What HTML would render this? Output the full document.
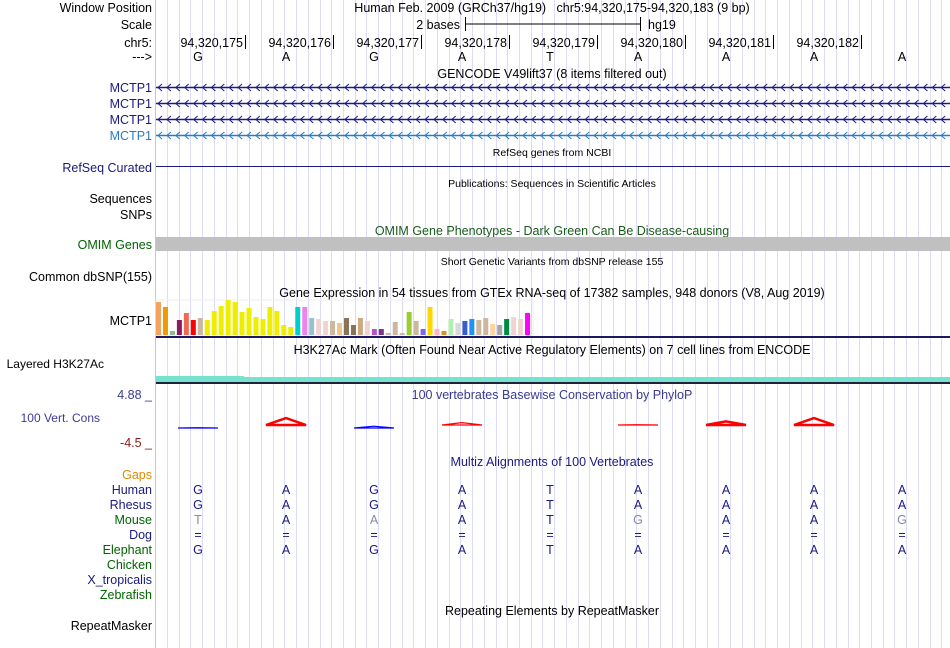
<!DOCTYPE html>
<html><head><meta charset="utf-8"><style>
html,body{margin:0;padding:0;background:#fff}
svg{display:block;font-family:"Liberation Sans",sans-serif}
</style></head><body>
<svg id="s" width="950" height="648" viewBox="0 0 950 648">
<g id="grid"></g>
<line x1="155.5" y1="0" x2="155.5" y2="648" stroke="#ffb0b0"/>
<g font-size="12.5" text-anchor="end" fill="#000">
<text x="152" y="12">Window Position</text>
<text x="152" y="29">Scale</text>
<text x="152" y="47">chr5:</text>
<text x="152" y="61">---&gt;</text>
<text x="152" y="92" fill="#1a1a80">MCTP1</text>
<text x="152" y="108" fill="#1a1a80">MCTP1</text>
<text x="152" y="124" fill="#1a1a80">MCTP1</text>
<text x="152" y="140" fill="#2b7bc0">MCTP1</text>
<text x="152" y="172" fill="#1a1a80">RefSeq Curated</text>
<text x="152" y="203">Sequences</text>
<text x="152" y="219">SNPs</text>
<text x="152" y="249" fill="#006400">OMIM Genes</text>
<text x="152" y="281">Common dbSNP(155)</text>
<text x="152" y="325">MCTP1</text>
<text x="104" y="368" font-size="12">Layered H3K27Ac</text>
<text x="152" y="399" fill="#3b3b8f">4.88 _</text>
<text x="100" y="422" fill="#3b3b8f" font-size="12">100 Vert. Cons</text>
<text x="152" y="447" fill="#8b1a1a">-4.5 _</text>
<text x="152" y="479" fill="#e08a00">Gaps</text>
<text x="152" y="494" fill="#1a1a80">Human</text>
<text x="152" y="509" fill="#1a1a80">Rhesus</text>
<text x="152" y="524" fill="#006400">Mouse</text>
<text x="152" y="539" fill="#1a1a80">Dog</text>
<text x="152" y="554" fill="#006400">Elephant</text>
<text x="152" y="569" fill="#006400">Chicken</text>
<text x="152" y="584" fill="#1a1a80">X_tropicalis</text>
<text x="152" y="599" fill="#006400">Zebrafish</text>
<text x="152" y="630">RepeatMasker</text>
</g>
<g font-size="12.5" fill="#000">
<text x="552" y="12" text-anchor="middle">Human Feb. 2009 (GRCh37/hg19)&#160;&#160;&#160;chr5:94,320,175-94,320,183 (9 bp)</text>
<text x="460" y="29" text-anchor="end">2 bases</text>
<text x="648" y="29">hg19</text>
<text x="552" y="78" text-anchor="middle">GENCODE V49lift37 (8 items filtered out)</text>
<text x="552" y="156" text-anchor="middle" font-size="10.5">RefSeq genes from NCBI</text>
<text x="552" y="187" text-anchor="middle" font-size="10.5">Publications: Sequences in Scientific Articles</text>
<text x="552" y="235" text-anchor="middle" fill="#1a5c1a">OMIM Gene Phenotypes - Dark Green Can Be Disease-causing</text>
<text x="552" y="265" text-anchor="middle" font-size="10.5">Short Genetic Variants from dbSNP release 155</text>
<text x="552" y="297" text-anchor="middle">Gene Expression in 54 tissues from GTEx RNA-seq of 17382 samples, 948 donors (V8, Aug 2019)</text>
<text x="552" y="354" text-anchor="middle">H3K27Ac Mark (Often Found Near Active Regulatory Elements) on 7 cell lines from ENCODE</text>
<text x="552" y="399" text-anchor="middle" fill="#3b3b8f">100 vertebrates Basewise Conservation by PhyloP</text>
<text x="552" y="466" text-anchor="middle" fill="#1a1a80">Multiz Alignments of 100 Vertebrates</text>
<text x="552" y="615" text-anchor="middle">Repeating Elements by RepeatMasker</text>
</g>
<g stroke="#000">
<line x1="465" y1="24" x2="640" y2="24"/><line x1="465.5" y1="17" x2="465.5" y2="31"/><line x1="640.5" y1="17" x2="640.5" y2="31"/>
</g>
<g id="ruler" font-size="12.5"></g>
<g id="genes"></g>
<line x1="156" y1="166.5" x2="950" y2="166.5" stroke="#1a1a80"/>
<rect x="156" y="237" width="794" height="14" fill="#c0c0c0"/>
<g id="gtex"></g>
<rect x="156" y="336" width="794" height="2" fill="#1a1a60"/>
<rect x="156" y="376" width="88" height="6" fill="#76e4cc"/>
<rect x="244" y="377" width="706" height="5" fill="#76e4cc"/>
<rect x="156" y="382" width="794" height="2" fill="#202040"/>
<g id="cons"></g>
<g id="multiz" font-size="12.5" text-anchor="middle"></g>
</svg>
<script>
const NS="http://www.w3.org/2000/svg";
function mk(t,a,p){const e=document.createElementNS(NS,t);for(const k in a)e.setAttribute(k,a[k]);p.appendChild(e);return e;}
const bases=["G","A","G","A","T","A","A","A","A"];
const tickLabels=["94,320,175","94,320,176","94,320,177","94,320,178","94,320,179","94,320,180","94,320,181","94,320,182"];
const gtexValues=[33,28,4,15,22,15,17,15,24,29,35,33,23,27,18,16,28,24,10,8,28,28,17,16,14,14,12,17,10,17,14,6,6,2,13,2,23,14,6,28,6,4,16,12,14,16,15,17,11,10,16,18,16,22];
const gtexColors=["#f4a460","#ee9a00","#8fbc8f","#8b1c62","#ee6a50","#ff0000","#cdb79e","#eeee00","#eeee00","#eeee00","#eeee00","#eeee00","#eeee00","#eeee00","#eeee00","#eeee00","#eeee00","#eeee00","#eeee00","#eeee00","#00cdcd","#ee82ee","#9ac0cd","#eed5d2","#eed5d2","#cdb79e","#eec591","#8b7355","#8b7355","#cdaa7d","#eed5d2","#b452cd","#7a378b","#cdb79e","#cdb79e","#cdb79e","#9acd32","#cdb79e","#7b68ee","#ffd700","#ffb6c1","#cd9b1d","#b4eeb4","#d9d9d9","#3a5fcd","#1e90ff","#cdb79e","#cdb79e","#ffd39b","#a6a6a6","#008b45","#eed5d2","#eed5d2","#ff00ff"];
const humanRow=["G","A","G","A","T","A","A","A","A"];
const rhesusRow=["G","A","G","A","T","A","A","A","A"];
const mouseRow=["T","A","A","A","T","G","A","A","G"];
const dogRow=["=","=","=","=","=","=","=","=","="];
const elephantRow=["G","A","G","A","T","A","A","A","A"];
const consValues=[-0.1,2.3,-0.6,0.8,0,0.1,1.2,2.3,0];
const baseX=i=>198+88*i;
const g=document.getElementById('grid');
for(let x=167;x<950;x+=88/7.5){const l=mk('line',{x1:Math.round(x)+.5,y1:0,x2:Math.round(x)+.5,y2:648,stroke:'#dcdcf8'},g);

}
const r=document.getElementById('ruler');
tickLabels.forEach((t,i)=>{const x=245+88*i;
const tx=mk('text',{x:x-2,y:47,'text-anchor':'end'},r);tx.textContent=t;


const ln=mk('line',{x1:x+.5,y1:35,x2:x+.5,y2:49,stroke:'#000'},r);

});
bases.forEach((b,i)=>{const tx=mk('text',{x:baseX(i),y:61,'text-anchor':'middle'},r);tx.textContent=b;

});
const gn=document.getElementById('genes');
[[87,'#1a1a80'],[103,'#1a1a80'],[119,'#1a1a80'],[135,'#2b7bc0']].forEach(([y,c])=>{
const grp=mk('g',{},gn);


mk('line',{x1:156,y1:y+.5,x2:950,y2:y+.5,stroke:c,'stroke-width':1.5},grp);
let d='';for(let x=158;x<948;x+=8.9){d+=`M${x+4},${y-3} L${x},${y+.5} L${x+4},${y+4} `;}
mk('path',{d:d,fill:'none',stroke:c,'stroke-width':1},grp);});
const gt=document.getElementById('gtex');
const base=335,scale=1.0,step=376/54;
mk('rect',{x:156,y:300,width:377,height:35,fill:'none',stroke:'#eee'},gt);
gtexValues.forEach((v,i)=>{const b=mk('rect',{x:156+i*step,y:base-v*scale,width:5,height:v*scale,fill:gtexColors[i]},gt);

});
const cs=document.getElementById('cons');
const cy0=425;
consValues.forEach((v,i)=>{if(v===0)return;const x=baseX(i);const h=Math.abs(v)*3;
const col=v>0?'#ff0000':'#0000ff';const y=v>0?cy0:cy0+3;
const p=mk('path',{d:`M${x-20},${y} L${x},${y-h} L${x+20},${y} Z`,fill:'none',stroke:col,'stroke-width':v>1?2.5:1.2},cs);

});
const mz=document.getElementById('multiz');
[[humanRow,494],[rhesusRow,509],[mouseRow,524],[dogRow,539],[elephantRow,554]].forEach(([row,y],ri)=>{
row.forEach((b,i)=>{const same=b===humanRow[i]||b==='=';
const t=mk('text',{x:baseX(i),y:y,fill:(ri===2&&!same)?'#8888aa':'#1a1a80'},mz);t.textContent=b;

});});
</script>
</body></html>
